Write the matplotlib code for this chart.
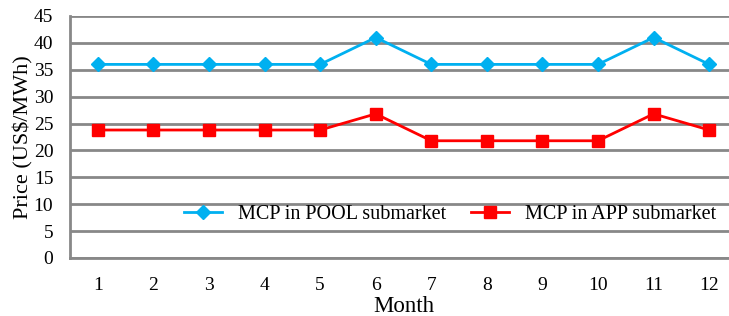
import numpy as np
import matplotlib
matplotlib.use("Agg")
import matplotlib.pyplot as plt

# data
months = [1, 2, 3, 4, 5, 6, 7, 8, 9, 10, 11, 12]
pool = [36, 36, 36, 36, 36, 41, 36, 36, 36, 36, 41, 36]
app = [23.8, 23.8, 23.8, 23.8, 23.8, 26.8, 21.8, 21.8, 21.8, 21.8, 26.8, 23.8]
yticks = [0, 5, 10, 15, 20, 25, 30, 35, 40, 45]

plt.rcParams['font.family'] = ['Liberation Serif', 'DejaVu Serif']

fig = plt.figure(figsize=(7.29, 3.16), dpi=100)
ax = fig.add_axes([70/729, 58/316, 667/729, 242/316])

ax.plot(months, pool, color="#00b0f0", lw=2, marker="D", ms=7, label="MCP in POOL submarket")
ax.plot(months, app, color="#ff0000", lw=2, marker="s", ms=8, label="MCP in APP submarket")

ax.set_xlim(0.5, 12.5)
ax.set_ylim(0, 45)
ax.set_yticks(yticks)
ax.set_xticks(months)
ax.yaxis.grid(True, color="#888888", lw=2)
ax.set_axisbelow(True)
for s in ["top", "right"]:
    ax.spines[s].set_visible(False)
for s in ["left", "bottom"]:
    ax.spines[s].set_color("#888888")
    ax.spines[s].set_linewidth(2)
ax.tick_params(axis="both", length=0, labelsize=14)
ax.tick_params(axis="y", pad=12)
ax.tick_params(axis="x", pad=14)

ax.set_ylabel("Price (US$/MWh)", fontsize=16, labelpad=0)
ax.set_xlabel("Month", fontsize=16.5, labelpad=1)

ax.legend(loc="center", bbox_to_anchor=(0.57, 0.178), ncol=2, frameon=False,
          fontsize=14.5, handlelength=1.9, columnspacing=1.2, handletextpad=0.8)

fig.savefig("out.png", dpi=100)
